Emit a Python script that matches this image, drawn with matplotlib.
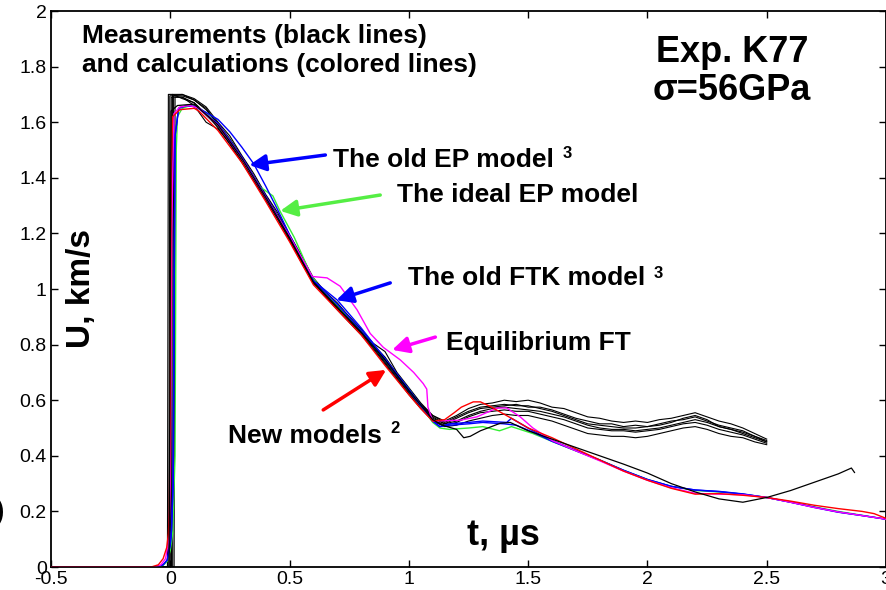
import matplotlib
matplotlib.use("Agg")
import matplotlib.pyplot as plt

plt.rcParams['font.family'] = ['Liberation Sans', 'DejaVu Sans']

# ---------------- data ----------------
# measurement traces (black): common time grid after the shock front
t_meas = [0.05, 0.10, 0.15, 0.20, 0.25, 0.30, 0.35, 0.40, 0.45, 0.50,
          0.55, 0.60, 0.65, 0.70, 0.75, 0.80, 0.85, 0.90, 0.95, 1.00,
          1.05, 1.10, 1.15, 1.20, 1.25, 1.30, 1.35, 1.40, 1.45, 1.50,
          1.55, 1.60, 1.65, 1.70, 1.75, 1.80, 1.85, 1.90, 1.95, 2.00,
          2.05, 2.10, 2.15, 2.20, 2.25, 2.30, 2.35, 2.40, 2.45, 2.50]
meas_arrival = [-0.012, -0.006, 0.0, 0.005, 0.010, 0.016]
meas_peak = [1.700, 1.695, 1.690, 1.700, 1.695, 1.690]
meas_1 = [1.700, 1.685, 1.655, 1.600, 1.550, 1.480, 1.415, 1.340, 1.275, 1.195,
          1.120, 1.040, 0.990, 0.950, 0.900, 0.855, 0.800, 0.755, 0.695, 0.640,
          0.585, 0.545, 0.525, 0.545, 0.570, 0.585, 0.590, 0.600, 0.595, 0.600,
          0.590, 0.575, 0.570, 0.555, 0.540, 0.535, 0.525, 0.520, 0.525, 0.520,
          0.530, 0.535, 0.545, 0.555, 0.540, 0.525, 0.515, 0.500, 0.480, 0.460]
meas_2 = [1.695, 1.680, 1.645, 1.595, 1.540, 1.475, 1.405, 1.335, 1.265, 1.190,
          1.110, 1.035, 0.985, 0.940, 0.895, 0.850, 0.800, 0.745, 0.690, 0.635,
          0.585, 0.540, 0.515, 0.535, 0.555, 0.570, 0.575, 0.580, 0.585, 0.575,
          0.575, 0.565, 0.550, 0.535, 0.525, 0.515, 0.515, 0.505, 0.510, 0.505,
          0.515, 0.525, 0.530, 0.540, 0.525, 0.510, 0.500, 0.490, 0.470, 0.455]
meas_3 = [1.690, 1.660, 1.600, 1.575, 1.525, 1.460, 1.395, 1.325, 1.255, 1.180,
          1.100, 1.025, 0.975, 0.930, 0.885, 0.840, 0.790, 0.735, 0.680, 0.625,
          0.575, 0.530, 0.510, 0.520, 0.540, 0.555, 0.560, 0.565, 0.560, 0.560,
          0.550, 0.540, 0.530, 0.515, 0.500, 0.495, 0.490, 0.490, 0.485, 0.490,
          0.495, 0.505, 0.515, 0.520, 0.510, 0.495, 0.485, 0.475, 0.460, 0.445]
meas_4 = [1.685, 1.670, 1.630, 1.580, 1.520, 1.455, 1.390, 1.320, 1.250, 1.175,
          1.095, 1.020, 0.975, 0.925, 0.880, 0.835, 0.785, 0.730, 0.675, 0.620,
          0.570, 0.525, 0.505, 0.510, 0.525, 0.535, 0.545, 0.550, 0.545, 0.545,
          0.535, 0.525, 0.510, 0.495, 0.480, 0.475, 0.470, 0.470, 0.465, 0.470,
          0.480, 0.490, 0.500, 0.505, 0.495, 0.480, 0.470, 0.465, 0.450, 0.440]
meas_5 = [1.700, 1.680, 1.650, 1.590, 1.535, 1.470, 1.400, 1.330, 1.265, 1.185,
          1.105, 1.030, 0.985, 0.945, 0.900, 0.855, 0.805, 0.775, 0.700, 0.645,
          0.590, 0.545, 0.520, 0.540, 0.560, 0.575, 0.580, 0.585, 0.580, 0.580,
          0.570, 0.560, 0.545, 0.530, 0.515, 0.510, 0.505, 0.500, 0.500, 0.505,
          0.510, 0.520, 0.535, 0.545, 0.530, 0.505, 0.495, 0.485, 0.470, 0.450]
meas_6 = [1.690, 1.670, 1.625, 1.585, 1.530, 1.465, 1.395, 1.330, 1.260, 1.185,
          1.100, 1.030, 0.980, 0.935, 0.890, 0.845, 0.795, 0.740, 0.685, 0.630,
          0.580, 0.535, 0.515, 0.525, 0.545, 0.560, 0.570, 0.575, 0.570, 0.565,
          0.560, 0.550, 0.540, 0.525, 0.510, 0.500, 0.495, 0.495, 0.490, 0.495,
          0.500, 0.510, 0.520, 0.530, 0.520, 0.505, 0.495, 0.480, 0.465, 0.450]
meas_traces = [meas_1, meas_2, meas_3, meas_4, meas_5, meas_6]

# calculations
late_t = [1.6, 1.7, 1.8, 1.9, 2.0, 2.1, 2.2, 2.3, 2.4, 2.5, 2.6, 2.7, 2.8, 2.9, 3.0]

red_t = [-0.5, -0.08, -0.05, -0.03, -0.015, -0.008, -0.004, 0.0, 0.004, 0.01, 0.04, 0.1, 0.12,
         0.2, 0.3, 0.4, 0.5, 0.6, 0.7, 0.8, 0.9, 1.0, 1.05, 1.1, 1.15, 1.19, 1.22, 1.27, 1.30,
         1.34, 1.43, 1.5, 1.6, 1.7, 1.8, 1.9, 2.0, 2.1, 2.2, 2.3, 2.4, 2.5, 2.6, 2.7, 2.8,
         2.9, 2.95, 3.0]
red_u = [0, 0, 0.008, 0.03, 0.07, 0.12, 0.2, 0.6, 1.45, 1.62, 1.645, 1.65, 1.64,
         1.57, 1.455, 1.315, 1.17, 1.015, 0.925, 0.835, 0.725, 0.62, 0.57, 0.525, 0.53, 0.555,
         0.575, 0.594, 0.594, 0.578, 0.535, 0.50, 0.465, 0.425, 0.385, 0.345, 0.312, 0.283,
         0.262, 0.264, 0.258, 0.25, 0.237, 0.222, 0.21, 0.20, 0.192, 0.175]

blue_ep_t = [-0.5, -0.06, -0.03, -0.013, 0.0, 0.005, 0.012, 0.02, 0.035, 0.07, 0.11, 0.2,
             0.25, 0.3, 0.35, 0.4, 0.45, 0.5, 0.6, 0.7, 0.8, 0.9, 1.0, 1.1, 1.13, 1.17, 1.25,
             1.31, 1.41, 1.43, 1.52] + late_t
blue_ep_u = [0, 0, 0.008, 0.025, 0.08, 0.13, 0.3, 1.55, 1.65, 1.66, 1.655, 1.61,
             1.565, 1.51, 1.45, 1.37, 1.285, 1.195, 1.03, 0.945, 0.85, 0.745, 0.635, 0.525,
             0.505, 0.515, 0.52, 0.525, 0.52, 0.535, 0.49,
             0.455, 0.42, 0.385, 0.348, 0.315, 0.29, 0.277, 0.272, 0.263, 0.25, 0.233,
             0.215, 0.198, 0.185, 0.172]

blue_ftk_t = [-0.5, -0.06, -0.03, -0.013, 0.0, 0.005, 0.012, 0.02, 0.035, 0.07, 0.11, 0.2,
              0.3, 0.4, 0.5, 0.6, 0.65, 0.7, 0.75, 0.8, 0.9, 1.0, 1.1, 1.13, 1.17, 1.25,
              1.31, 1.4, 1.45, 1.52] + late_t
blue_ftk_u = [0, 0, 0.008, 0.025, 0.08, 0.13, 0.3, 1.55, 1.65, 1.66, 1.655, 1.595,
              1.475, 1.335, 1.19, 1.03, 0.995, 0.96, 0.91, 0.86, 0.75, 0.64, 0.525, 0.505,
              0.51, 0.515, 0.52, 0.515, 0.51, 0.485,
              0.452, 0.418, 0.384, 0.347, 0.314, 0.29, 0.277, 0.271, 0.262, 0.25, 0.233,
              0.214, 0.197, 0.185, 0.172]

green_t = [-0.5, -0.06, -0.03, -0.013, 0.0, 0.01, 0.02, 0.025, 0.03, 0.05, 0.084, 0.105,
           0.15, 0.2, 0.25, 0.3, 0.35, 0.38, 0.43, 0.46, 0.52, 0.59, 0.62, 0.7, 0.8, 0.9,
           1.0, 1.1, 1.13, 1.17, 1.25, 1.31, 1.38, 1.43, 1.52] + late_t
green_u = [0, 0, 0.006, 0.02, 0.06, 0.12, 0.4, 1.5, 1.62, 1.65, 1.66, 1.655,
           1.635, 1.59, 1.535, 1.47, 1.40, 1.365, 1.335, 1.28, 1.185, 1.05, 1.015, 0.94,
           0.85, 0.745, 0.64, 0.52, 0.50, 0.495, 0.5, 0.505, 0.49, 0.505, 0.48,
           0.452, 0.418, 0.385, 0.348, 0.315, 0.29, 0.275, 0.27, 0.262, 0.25, 0.234,
           0.216, 0.2, 0.186, 0.172]

magenta_t = [-0.5, -0.07, -0.04, -0.02, -0.006, 0.0, 0.006, 0.015, 0.04, 0.08, 0.12, 0.2,
             0.3, 0.4, 0.5, 0.595, 0.657, 0.712, 0.783, 0.838, 0.893, 0.964, 1.02, 1.06,
             1.075, 1.08, 1.10, 1.215, 1.285, 1.37, 1.41, 1.467, 1.52] + late_t
magenta_u = [0, 0, 0.007, 0.03, 0.1, 0.3, 1.2, 1.63, 1.655, 1.66, 1.65, 1.59,
             1.47, 1.33, 1.19, 1.045, 1.04, 1.01, 0.925, 0.84, 0.79, 0.745, 0.70, 0.66,
             0.64, 0.575, 0.525, 0.528, 0.54, 0.572, 0.572, 0.54, 0.50,
             0.455, 0.418, 0.382, 0.345, 0.312, 0.285, 0.265, 0.262, 0.26, 0.25, 0.233,
             0.214, 0.198, 0.185, 0.172]

black_calc_t = [-0.5, -0.005, 0.003, 0.03, 0.1, 0.2, 0.3, 0.4, 0.5, 0.6, 0.7, 0.8, 0.9, 1.0,
                1.1, 1.14, 1.2, 1.23, 1.257, 1.3, 1.383, 1.425, 1.5, 1.6, 1.7, 1.8, 1.9,
                2.0, 2.1, 2.2, 2.3, 2.4, 2.47, 2.5, 2.6, 2.7, 2.8, 2.855, 2.868]
black_calc_u = [0, 0, 1.64, 1.66, 1.665, 1.59, 1.47, 1.33, 1.185, 1.025, 0.935, 0.845,
                0.745, 0.635, 0.53, 0.51, 0.495, 0.465, 0.47, 0.49, 0.517, 0.52, 0.49, 0.46,
                0.43, 0.40, 0.37, 0.338, 0.30, 0.27, 0.245, 0.233, 0.245, 0.25, 0.275,
                0.305, 0.335, 0.356, 0.34]

x_ticks = [-0.5, 0, 0.5, 1, 1.5, 2, 2.5, 3]
x_ticklabels = ['-0.5', '0', '0.5', '1', '1.5', '2', '2.5', '3']
y_ticks = [0, 0.2, 0.4, 0.6, 0.8, 1.0, 1.2, 1.4, 1.6, 1.8, 2.0]
y_ticklabels = ['0', '0.2', '0.4', '0.6', '0.8', '1', '1.2', '1.4', '1.6', '1.8', '2']

# ---------------- figure ----------------
fig = plt.figure(figsize=(8.87, 5.90), dpi=100)
ax = fig.add_axes([51/887, 23/590, 835/887, 556/590])

BLUE = '#0000ff'
GREEN = '#33ee33'
MAGENTA = '#ff00ff'
RED = '#ff0000'

for arr, pk, vals in zip(meas_arrival, meas_peak, meas_traces):
    ax.plot([-0.5, arr, arr + 0.004] + t_meas, [0, 0, pk] + vals,
            color='black', lw=0.8, zorder=2)

ax.plot(green_t, green_u, color=GREEN, lw=1.0, zorder=3)
ax.plot(blue_ftk_t, blue_ftk_u, color=BLUE, lw=1.0, zorder=3)
ax.plot(blue_ep_t, blue_ep_u, color=BLUE, lw=1.0, zorder=3)
ax.plot(magenta_t, magenta_u, color=MAGENTA, lw=1.0, zorder=3)
ax.plot(red_t, red_u, color=RED, lw=1.0, zorder=3)
ax.plot(black_calc_t, black_calc_u, color='black', lw=0.9, zorder=3)

ax.set_xlim(-0.5, 3)
ax.set_ylim(0, 2)
ax.set_xticks(x_ticks)
ax.set_xticklabels(x_ticklabels)
ax.set_yticks(y_ticks)
ax.set_yticklabels(y_ticklabels)
ax.tick_params(direction='in', length=5, width=1, top=True, right=True,
               labelsize=14, pad=3)
for s in ax.spines.values():
    s.set_linewidth(1.3)

# axis labels placed inside the plot
ax.text(0.036, 0.50, 'U, km/s', transform=ax.transAxes, rotation=90,
        ha='center', va='center', fontsize=24, fontweight='bold')
ax.text(0.498, 0.040, 't, µs', transform=ax.transAxes, ha='left', va='baseline',
        fontsize=26, fontweight='bold')

# header texts
ax.text(0.037, 0.942, 'Measurements (black lines)', transform=ax.transAxes,
        ha='left', va='baseline', fontsize=19, fontweight='bold')
ax.text(0.037, 0.890, 'and calculations (colored lines)', transform=ax.transAxes,
        ha='left', va='baseline', fontsize=19, fontweight='bold')
ax.text(0.8156, 0.908, 'Exp. K77', transform=ax.transAxes, ha='center',
        va='baseline', fontsize=26, fontweight='bold')
ax.text(0.8156, 0.840, 'σ=56GPa', transform=ax.transAxes, ha='center',
        va='baseline', fontsize=26, fontweight='bold')

# model labels
lab_fs = 19
sup_fs = 12
ax.text(0.3377, 0.719, 'The old EP model', transform=ax.transAxes, ha='left',
        va='baseline', fontsize=lab_fs, fontweight='bold')
ax.text(0.613, 0.7356, '3', transform=ax.transAxes, ha='left', va='baseline',
        fontsize=sup_fs, fontweight='bold')
ax.text(0.4144, 0.6565, 'The ideal EP model', transform=ax.transAxes, ha='left',
        va='baseline', fontsize=lab_fs, fontweight='bold')
ax.text(0.4275, 0.507, 'The old FTK model', transform=ax.transAxes, ha='left',
        va='baseline', fontsize=lab_fs, fontweight='bold')
ax.text(0.722, 0.52, '3', transform=ax.transAxes, ha='left', va='baseline',
        fontsize=sup_fs, fontweight='bold')
ax.text(0.473, 0.39, 'Equilibrium FT', transform=ax.transAxes, ha='left',
        va='baseline', fontsize=lab_fs, fontweight='bold')
ax.text(0.212, 0.223, 'New models', transform=ax.transAxes, ha='left',
        va='baseline', fontsize=lab_fs, fontweight='bold')
ax.text(0.406, 0.241, '2', transform=ax.transAxes, ha='left', va='baseline',
        fontsize=sup_fs, fontweight='bold')

# arrows (tail -> head, in data coords)
arrows = [((0.65, 1.482), (0.331, 1.446), BLUE),
          ((0.88, 1.338), (0.461, 1.281), '#55ee44'),
          ((0.922, 1.022), (0.696, 0.96), BLUE),
          ((1.111, 0.827), (0.93, 0.781), MAGENTA),
          ((0.641, 0.565), (0.905, 0.709), RED)]
for tail, head, col in arrows:
    ax.annotate('', xy=head, xytext=tail,
                arrowprops=dict(arrowstyle='-|>,head_length=0.7,head_width=0.35',
                                color=col, lw=2.5, shrinkA=0, shrinkB=0,
                                mutation_scale=14))

# cut-off panel label at far left
fig.text(5/887, (590-512)/590, '(b)', ha='right', va='center', fontsize=20,
         fontweight='bold')

fig.savefig('out.png', dpi=100)
